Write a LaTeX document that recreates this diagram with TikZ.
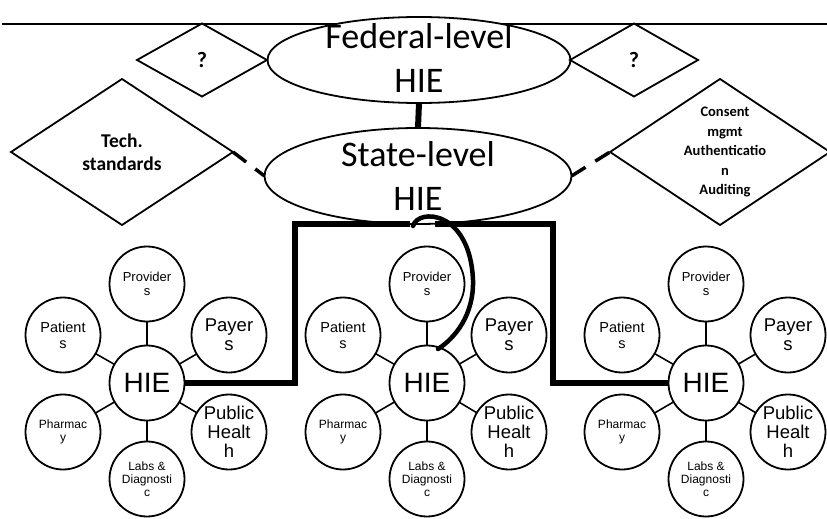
\documentclass[tikz,border=0pt]{standalone}
\usepackage{fontspec}
\setmainfont{Carlito}
\newfontfamily\arialish{Liberation Sans}
\usetikzlibrary{shapes.geometric,calc}

\tikzset{
  thinline/.style={line width=1.8pt},
  oval/.style={ellipse, draw, line width=1.8pt, fill=white, inner sep=0pt, outer sep=0pt},
  rhomb/.style={diamond, draw, line width=1.8pt, inner sep=0pt, outer sep=0pt},
  bubble/.style={circle, draw, line width=1.8pt, fill=white, minimum size=75pt, inner sep=0pt, outer sep=0pt},
  spoke/.style={line width=1.6pt},
  bus/.style={line width=5.5pt, line join=miter},
  dashlink/.style={line width=3.5pt, dash pattern=on 16.5pt off 11.5pt},
  loopline/.style={line width=4.5pt, line cap=round},
  bigtxt/.style={align=center, font=\fontsize{36}{44.5}\selectfont},
  tagtxt/.style={align=center, font=\bfseries\fontsize{19.5}{23}\selectfont},
  qtxt/.style={font=\bfseries\fontsize{22}{24}\selectfont},
  smalltag/.style={align=center, font=\bfseries\fontsize{14.5}{19.5}\selectfont},
  sat/.style 2 args={align=center, font=\arialish\fontsize{#1}{#2}\selectfont},
}

\begin{document}
\begin{tikzpicture}[x=1pt,y=-1pt]
\useasboundingbox (0,0) rectangle (827,519);

% rule across the top
\coordinate (ruleL) at (2,24);
\coordinate (ruleR) at (827,24);
\draw[thinline] (ruleL) -- (ruleR);

% federal and state exchanges
\node[oval, minimum width=303pt, minimum height=86pt,
      label={[bigtxt, yshift=2pt]center:Federal-level\\HIE}] (fed) at (419,60) {};
\node[oval, minimum width=307pt, minimum height=96pt,
      label={[bigtxt]center:State-level\\HIE}] (state) at (418,176) {};
\draw[line width=6pt] (fed.south) -- (state.north);

% open questions beside the federal level
\node[rhomb, minimum width=130pt, minimum height=73pt,
      label={[qtxt]center:?}] (qL) at (202,60) {};
\node[rhomb, minimum width=128pt, minimum height=73pt,
      label={[qtxt]center:?}] (qR) at (634,60) {};

% services beside the state level
\node[rhomb, minimum width=222pt, minimum height=146pt,
      label={[tagtxt]center:Tech.\\standards}] (tech) at (122,152) {};
\node[rhomb, minimum width=220pt, minimum height=146pt,
      label={[smalltag, xshift=5pt]center:Consent\\mgmt\\Authenticatio\\n\\Auditing}] (cons) at (720,152) {};
\draw[dashlink] (tech.east) -- (state.west);
\draw[dashlink] (state.east) -- (cons.west);

% three local exchanges with their participants
\foreach \n/\cx in {1/147, 2/427, 3/706} {
  \node[bubble, label={[sat={28}{30}]center:HIE}] (h\n) at (\cx,383) {};
  \node[bubble, label={[sat={13}{14.5}]center:Provider\\s}] (pv\n) at (\cx,284) {};
  \node[bubble, label={[sat={14.5}{16}]center:Patient\\s}] (pt\n) at ($(h\n)+(-84,-48)$) {};
  \node[bubble, label={[sat={18.5}{19}]center:Payer\\s}] (py\n) at ($(h\n)+(82,-48)$) {};
  \node[bubble, label={[sat={12}{13.5}]center:Pharmac\\y}] (ph\n) at ($(h\n)+(-84,49)$) {};
  \node[bubble, label={[sat={18.5}{19.2}]center:Public\\Healt\\h}] (pu\n) at ($(h\n)+(82,49)$) {};
  \node[bubble, label={[sat={12}{13}]center:Labs \&\\Diagnosti\\c}] (lb\n) at ($(h\n)+(0,96)$) {};
  \foreach \s in {pv,pt,py,ph,pu,lb}
    \draw[spoke] (h\n) -- (\s\n);
}

% links from the state level down to the local exchanges
\draw[bus] (h1.east) -| ($(state.south)+(-123,0)$) -- ($(state.south)+(-8,0)$);
\draw[bus] ($(state.south)+(17,0)$) -- ($(state.south)+(135,0)$) |- (h3.west);
\coordinate (loopA) at ($(state.south)+(-5,2)$);
\coordinate (loopB) at (473,280);
\coordinate (loopC) at ($(h2)+(11,-34)$);
\draw[loopline] (loopA) .. controls (418,208) and (470,210) .. (loopB)
                        .. controls (474,315) and (455,338) .. (loopC);
\end{tikzpicture}
\end{document}
